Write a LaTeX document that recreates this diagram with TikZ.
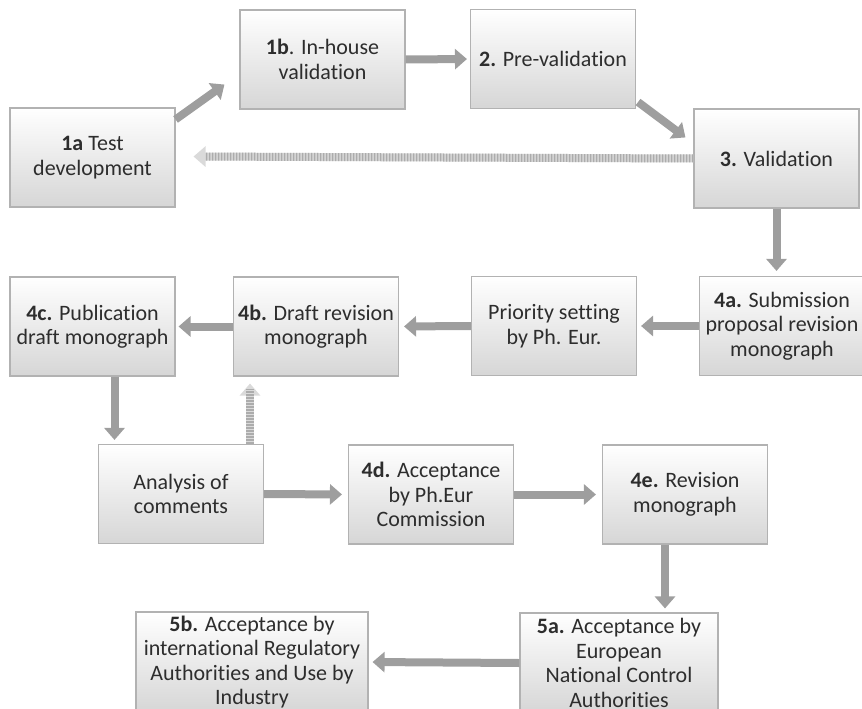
\documentclass[tikz,border=0pt]{standalone}
\usepackage{fontspec}
\setmainfont{Carlito}[Ligatures=NoCommon]
\usetikzlibrary{arrows.meta,calc}
\definecolor{boxline}{RGB}{178,178,178}
\definecolor{boxbot}{RGB}{214,214,214}
\definecolor{arrowc}{RGB}{158,158,158}
\definecolor{dashc}{RGB}{172,172,172}
\definecolor{dashbg}{RGB}{218,218,218}
\definecolor{txt}{RGB}{45,45,45}
\tikzset{
  box/.style={rectangle, draw=boxline, line width=1.1pt, top color=white, bottom color=boxbot,
    minimum width=165pt, minimum height=99pt, align=center, text=txt, inner sep=1pt,
    font=\fontsize{22}{24.5}\selectfont},
  arr/.style={draw=arrowc, line width=8pt, -{Triangle[width=20pt,length=12pt,fill=arrowc]}},
  darr/.style={draw=dashbg, line width=8pt, -{Triangle[width=20pt,length=12pt,fill=dashbg]},
    postaction={draw=dashc, line width=8pt, dash pattern=on 1.5pt off 1.5pt, -{}, shorten >=12pt}}
}
\begin{document}
\begin{tikzpicture}[x=1pt,y=-1pt]
\useasboundingbox (0,0) rectangle (862,709);
\clip (0,0) rectangle (862,709);
\node[box] (a1) at (92.5,157.5) {\textbf{1a} Test\\development};
\node[box] (b1) at (322.5,59.5) {\textbf{1b}. In-house\\validation};
\node[box] (two) at (553,59) {\textbf{2.} Pre-validation};
\node[box] (three) at (776.5,158.5) {\textbf{3.} Validation};
\node[box] (a4) at (782,326) {\textbf{4a.} Submission\\proposal revision\\monograph};
\node[box] (prio) at (554,326) {Priority setting\\by Ph. Eur.};
\node[box] (b4) at (316,326.5) {\textbf{4b.} Draft revision\\monograph};
\node[box] (c4) at (92.5,326.5) {\textbf{4c.} Publication\\draft monograph};
\node[box] (an) at (181,494) {Analysis of\\comments};
\node[box] (d4) at (431,494.5) {\textbf{4d.} Acceptance\\by Ph.Eur\\Commission};
\node[box] (e4) at (685,494.5) {\textbf{4e.} Revision\\monograph};
\node[box, minimum width=198pt, minimum height=100pt] (a5) at (619,663) {\textbf{5a.} Acceptance by\\European\\National Control\\Authorities};
\node[box, minimum width=232pt, minimum height=100pt] (b5) at (252,662) {\textbf{5b.} Acceptance by\\international Regulatory\\Authorities and Use by\\Industry};
% helper coordinates
\coordinate (c4s) at ($(c4.south)+(22,0)$);
\coordinate (ann) at ($(an.north)+(69,0)$);
\coordinate (e4s) at ($(e4.south)+(-20,0)$);
% connectors
\draw[arr] ($(a1.north east)+(0,12)$) -- ($(b1.south west)+(-15,-25)$);
\draw[arr, shorten >=3pt] (b1.east) -- (two.east -| two.west);
\draw[arr] ($(two.south east)+(2,-7)$) -- ($(three.north west)+(-8,29)$);
\draw[darr] (three.west) -- ($(a1.east)+(18,-1)$);
\draw[arr, shorten >=5pt] (three.south) -- (three.south |- a4.north);
\draw[arr, shorten >=4pt] (a4.west) -- (prio.east);
\draw[arr, shorten >=5pt] (prio.west) -- (b4.east);
\draw[arr, shorten >=3pt] (b4.west) -- (c4.east);
\draw[arr, shorten >=4pt] (c4s) -- (c4s |- an.north);
\draw[darr, shorten >=7pt] (ann) -- (ann |- b4.south);
\draw[arr, shorten >=6pt] (an.east) -- (d4.west);
\draw[arr, shorten >=6pt] (d4.east) -- (e4.west);
\draw[arr, shorten >=4pt] (e4s) -- (e4s |- a5.north);
\draw[arr, shorten >=4pt] (a5.west) -- (b5.east);
\end{tikzpicture}
\end{document}
